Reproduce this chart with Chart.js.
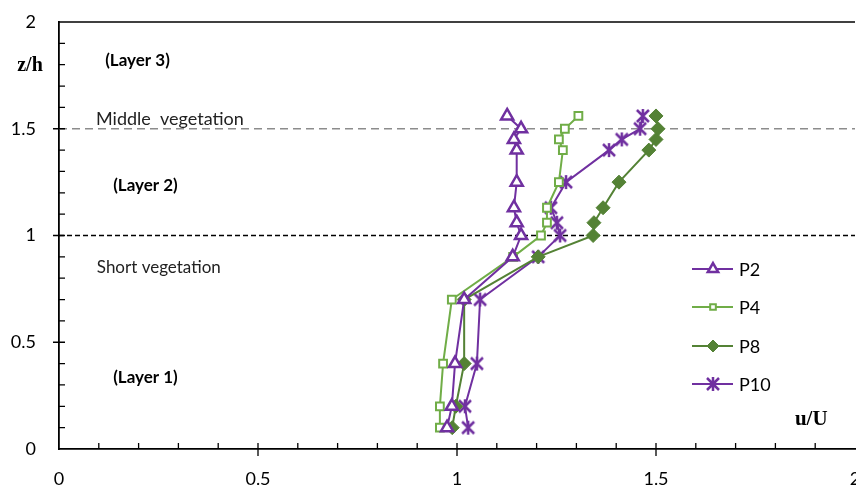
<!DOCTYPE html>
<html>
<head>
<meta charset="utf-8">
<script src="https://cdn.jsdelivr.net/npm/chart.js@4.4.1/dist/chart.umd.min.js"></script>
<style>
    html, body { margin: 0; padding: 0; background: #fff; }
    #wrap { width: 856px; height: 490px; }
</style>
</head>
<body>
<div id="wrap"><canvas id="profileChart" width="856" height="490"></canvas></div>
<script>
// --- DATA ---
const heights = [0.1, 0.2, 0.4, 0.7, 0.9, 1.0, 1.06, 1.13, 1.25, 1.4, 1.45, 1.5, 1.56];
const p2  = [0.975, 0.987, 0.995, 1.018, 1.140, 1.161, 1.150, 1.143, 1.150, 1.150, 1.143, 1.161, 1.126];
const p4  = [0.957, 0.957, 0.965, 0.987, 1.141, 1.211, 1.226, 1.226, 1.256, 1.266, 1.256, 1.271, 1.305];
const p8  = [0.988, 0.997, 1.018, 1.018, 1.204, 1.342, 1.344, 1.367, 1.407, 1.482, 1.500, 1.505, 1.500];
const p10 = [1.028, 1.020, 1.050, 1.058, 1.204, 1.259, 1.251, 1.236, 1.274, 1.382, 1.414, 1.460, 1.467];
const xTicks = [0, 0.5, 1, 1.5, 2];
const yTicks = [0, 0.5, 1, 1.5, 2];
const layerLines = [1.0, 1.5];

const PURPLE = '#7030A0';
const LIGHT_GREEN = '#70AD47';
const DARK_GREEN = '#548235';
const FONT = 'Lato, "Open Sans", sans-serif';

// asterisk marker (x with vertical bar) like the spreadsheet one
function makeAsterisk(color, size) {
    const c = document.createElement('canvas');
    c.width = size; c.height = size;
    const g = c.getContext('2d');
    const m = size / 2, r = size / 2 - 2;
    g.strokeStyle = color;
    g.lineWidth = 2.5;
    g.beginPath();
    g.moveTo(m - r, m - r); g.lineTo(m + r, m + r);
    g.moveTo(m + r, m - r); g.lineTo(m - r, m + r);
    g.moveTo(m, m - r - 1); g.lineTo(m, m + r + 1);
    g.stroke();
    return c;
}

const toPoints = arr => arr.map((v, i) => ({ x: v, y: heights[i] }));

const datasets = [
    { label: 'P2', data: toPoints(p2), borderColor: PURPLE, backgroundColor: '#fff',
      pointStyle: 'triangle', pointRadius: 7, pointBorderWidth: 2.5, borderWidth: 2, legendRadius: 6 },
    { label: 'P4', data: toPoints(p4), borderColor: LIGHT_GREEN, backgroundColor: '#fff',
      pointStyle: 'rect', pointRadius: 5.5, pointBorderWidth: 2, borderWidth: 2, legendRadius: 4 },
    { label: 'P8', data: toPoints(p8), borderColor: DARK_GREEN, backgroundColor: DARK_GREEN,
      pointStyle: 'rectRot', pointRadius: 7, pointBorderWidth: 1, borderWidth: 2, legendRadius: 6 },
    { label: 'P10', data: toPoints(p10), borderColor: PURPLE, backgroundColor: PURPLE,
      pointStyle: makeAsterisk(PURPLE, 16), pointRadius: 7, borderWidth: 2, legendRadius: 6 }
];
datasets.forEach(d => { d.showLine = true; d.tension = 0; });

// --- DECORATIONS (frame, ticks, layer lines, notes, legend) ---
const decorPlugin = {
    id: 'decor',
    beforeDatasetsDraw(chart) {
        const { ctx, chartArea: a, scales: { x, y } } = chart;
        ctx.save();
        // layer boundaries
        layerLines.forEach(v => {
            const py = y.getPixelForValue(v);
            ctx.beginPath();
            if (v === 1.5) { ctx.strokeStyle = '#8c8c8c'; ctx.lineWidth = 1.5; ctx.setLineDash([8, 5]); }
            else { ctx.strokeStyle = '#000'; ctx.lineWidth = 1.5; ctx.setLineDash([5, 3]); }
            ctx.moveTo(a.left, py); ctx.lineTo(a.right, py);
            ctx.stroke();
        });
        ctx.setLineDash([]);
        // top frame line
        ctx.strokeStyle = '#000';
        ctx.lineWidth = 1.5;
        ctx.beginPath();
        ctx.moveTo(a.left, a.top); ctx.lineTo(a.right, a.top);
        ctx.stroke();
        // minor ticks inward, major ticks across the axis
        ctx.lineWidth = 1.3;
        ctx.beginPath();
        for (let i = 1; i < 20; i++) {
            const v = i / 10;
            const major = i % 5 === 0;
            const px = x.getPixelForValue(v);
            ctx.moveTo(px, a.bottom + (major ? 7 : 0)); ctx.lineTo(px, a.bottom - 6);
            const py = y.getPixelForValue(v);
            ctx.moveTo(a.left - (major ? 6 : 0), py); ctx.lineTo(a.left + 6, py);
        }
        ctx.stroke();

        // notes
        ctx.fillStyle = '#000';
        ctx.textBaseline = 'middle';
        ctx.textAlign = 'left';
        const note = (txt, vx, vy, font) => {
            ctx.font = font;
            ctx.fillText(txt, x.getPixelForValue(vx), y.getPixelForValue(vy));
        };
        note('(Layer 3)', 0.116, 1.82, 'bold 17px ' + FONT);
        note('(Layer 2)', 0.136, 1.232, 'bold 17px ' + FONT);
        note('(Layer 1)', 0.136, 0.333, 'bold 17px ' + FONT);
        ctx.fillStyle = '#222';
        note('Middle  vegetation', 0.093, 1.545, '18px ' + FONT);
        note('Short vegetation', 0.095, 0.848, '17px ' + FONT);

        // axis titles
        ctx.fillStyle = '#000';
        ctx.textAlign = 'center';
        ctx.font = 'bold 20px "Liberation Serif", "DejaVu Serif", serif';
        ctx.fillText('z/h', a.left - 29, y.getPixelForValue(1.795));
        ctx.font = 'bold 21px "Liberation Serif", "DejaVu Serif", serif';
        ctx.fillText('u/U', x.getPixelForValue(1.89), y.getPixelForValue(0.136));
        ctx.restore();
    },
    afterDatasetsDraw(chart) {
        const { ctx } = chart;
        const x0 = 692, x1 = 733, mx = 713, tx = 739;
        const rows = [269, 307, 346, 384];
        ctx.save();
        chart.data.datasets.forEach((d, i) => {
            const py = rows[i];
            ctx.strokeStyle = d.borderColor;
            ctx.lineWidth = d.borderWidth;
            ctx.beginPath();
            ctx.moveTo(x0, py); ctx.lineTo(x1, py);
            ctx.stroke();
            ctx.fillStyle = d.backgroundColor;
            ctx.lineWidth = d.pointBorderWidth || 1;
            Chart.helpers.drawPoint(ctx, {
                pointStyle: d.pointStyle, radius: d.legendRadius, rotation: 0,
                borderWidth: d.pointBorderWidth || 1
            }, mx, py);
            ctx.fillStyle = '#000';
            ctx.font = '18px ' + FONT;
            ctx.textAlign = 'left';
            ctx.textBaseline = 'middle';
            ctx.fillText(d.label, tx, py + 1);
        });
        ctx.restore();
    }
};

function initChart() {
    const ctx = document.getElementById('profileChart');
    new Chart(ctx, {
        type: 'scatter',
        data: { datasets },
        options: {
            responsive: false,
            animation: false,
            layout: { autoPadding: false, padding: { top: 22, right: 1, left: 0, bottom: 0 } },
            plugins: { legend: { display: false }, tooltip: { enabled: false } },
            scales: {
                x: {
                    type: 'linear', min: 0, max: 2,
                    afterBuildTicks: s => { s.ticks = xTicks.map(v => ({ value: v })); },
                    ticks: { color: '#000', font: { family: FONT, size: 18 }, padding: 19, maxRotation: 0,
                             callback: v => String(v) },
                    grid: { display: false, drawTicks: false },
                    border: { color: '#000', width: 1.8 },
                    afterFit: s => { s.height = 41; s.paddingLeft = 0; s.paddingRight = 0; }
                },
                y: {
                    type: 'linear', min: 0, max: 2,
                    afterBuildTicks: s => { s.ticks = yTicks.map(v => ({ value: v })); },
                    ticks: { color: '#000', font: { family: FONT, size: 18 }, padding: 23,
                             callback: v => String(v) },
                    grid: { display: false, drawTicks: false },
                    border: { color: '#000', width: 1.8 },
                    afterFit: s => { s.width = 59; s.paddingTop = 0; s.paddingBottom = 0; }
                }
            }
        },
        plugins: [decorPlugin]
    });
}

window.addEventListener('DOMContentLoaded', initChart);
</script>
</body>
</html>
